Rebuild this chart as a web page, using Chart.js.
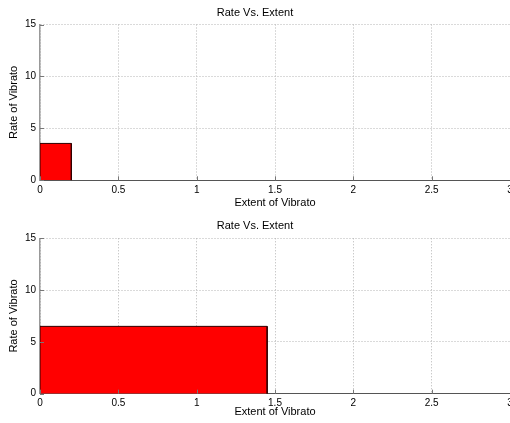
<!DOCTYPE html>
<html>
<head>
<meta charset="utf-8">
<script src="https://cdn.jsdelivr.net/npm/chart.js@4/dist/chart.umd.min.js"></script>
<style>
  html, body { margin: 0; padding: 0; background: #fff; }
  body { width: 510px; height: 423px; position: relative; overflow: hidden; }
  canvas { position: absolute; left: 0; }
  #top { top: 0; }
  #bottom { top: 212px; }
</style>
</head>
<body>
<canvas id="top" width="510" height="210"></canvas>
<canvas id="bottom" width="510" height="211"></canvas>
<script>
// Extent and rate of vibrato, one value per panel
const extent = [0.2, 1.45];
const rate = [3.55, 6.5];
const xTicks = [0, 0.5, 1, 1.5, 2, 2.5, 3];
const yTicks = [0, 5, 10, 15];
const plotTitle = 'Rate Vs. Extent';
const xTitle = 'Extent of Vibrato';
const yTitle = 'Rate of Vibrato';

const FONT = '"Liberation Sans", Helvetica, Arial, sans-serif';

// short inward tick marks, MATLAB style
const innerTicks = {
  id: 'innerTicks',
  afterDraw(chart) {
    const { ctx, chartArea: a, scales: { x, y } } = chart;
    ctx.save();
    ctx.strokeStyle = '#777';
    ctx.lineWidth = 1;
    ctx.beginPath();
    xTicks.forEach(v => {
      const px = Math.round(x.getPixelForValue(v)) + 0.5;
      ctx.moveTo(px, a.bottom); ctx.lineTo(px, a.bottom - 4);
    });
    yTicks.forEach(v => {
      const py = Math.round(y.getPixelForValue(v)) + 0.5;
      ctx.moveTo(a.left, py); ctx.lineTo(a.left + 4, py);
    });
    ctx.stroke();
    ctx.restore();
  }
};

function makePanel(id, idx, cfg) {
  const w = extent[idx], r = rate[idx];
  // outline of the filled block: up the y axis, across at the rate, down at the extent
  const outline = [{x: 0, y: 0}, {x: 0, y: r}, {x: w, y: r}, {x: w, y: 0}];
  new Chart(document.getElementById(id), {
    type: 'line',
    data: {
      datasets: [{
        data: outline,
        borderColor: '#300000',
        borderWidth: 1,
        backgroundColor: '#ff0000',
        fill: 'origin',
        pointRadius: 0,
        tension: 0
      }]
    },
    plugins: [innerTicks],
    options: {
      responsive: false,
      animation: false,
      devicePixelRatio: 1,
      layout: { padding: 0 },
      plugins: {
        legend: { display: false },
        tooltip: { enabled: false },
        title: {
          display: true,
          text: plotTitle,
          color: '#000',
          font: { family: FONT, size: 11, weight: 'normal', lineHeight: 1.2 },
          padding: { top: cfg.titleTop, bottom: cfg.titleBottom }
        }
      },
      scales: {
        x: {
          type: 'linear',
          min: 0, max: 3,
          afterBuildTicks: s => { s.ticks = xTicks.map(v => ({ value: v })); },
          afterFit: s => { s.height = cfg.xHeight; s.paddingLeft = 0; s.paddingRight = 0; },
          ticks: {
            color: '#000', padding: 4, maxRotation: 0, autoSkip: false,
            font: { family: FONT, size: 10 },
            callback: v => String(v)
          },
          grid: { color: '#b4b4b4', drawTicks: false, lineWidth: 1 },
          border: { display: true, color: '#555', width: 1, dash: [1, 2] },
          title: {
            display: true, text: xTitle, color: '#000',
            font: { family: FONT, size: 11, lineHeight: 1.2 },
            padding: { top: 0, bottom: cfg.xTitleBottom }
          }
        },
        y: {
          type: 'linear',
          min: 0, max: 15,
          afterBuildTicks: s => { s.ticks = yTicks.map(v => ({ value: v })); },
          afterFit: s => { s.width = 40; s.paddingTop = 0; s.paddingBottom = 0; },
          ticks: {
            color: '#000', padding: 4,
            font: { family: FONT, size: 10 },
            callback: v => String(v)
          },
          grid: { color: '#b4b4b4', drawTicks: false, lineWidth: 1 },
          border: { display: true, color: '#999', width: 1.5, dash: [1, 2] },
          title: {
            display: true, text: yTitle, color: '#000',
            font: { family: FONT, size: 11, lineHeight: 1.2 },
            padding: { top: 7.5, bottom: 0 }
          }
        }
      }
    }
  });
}

makePanel('top', 0, { titleTop: 6, titleBottom: 5.3, xHeight: 29.7, xTitleBottom: 0.7 });
makePanel('bottom', 1, { titleTop: 7.1, titleBottom: 6, xHeight: 29.3, xTitleBottom: 4.4 });
</script>
</body>
</html>
